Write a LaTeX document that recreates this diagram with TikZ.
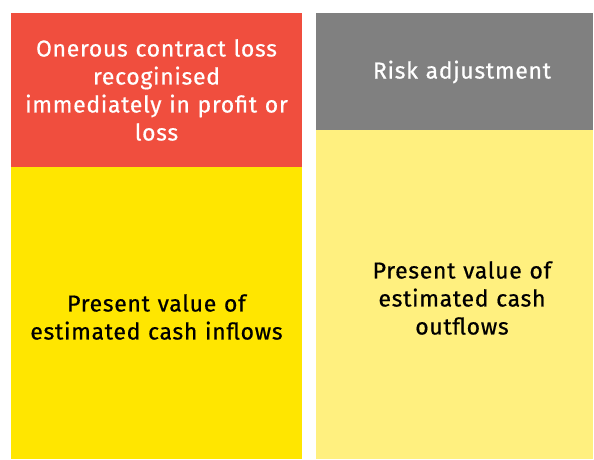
\documentclass[tikz,border=0pt]{standalone}
\usepackage{fontspec}
\setmainfont{Fira Sans}
\newfontfamily\lblfont{Fira Sans}[LetterSpace=3,FakeBold=0.6]
\definecolor{eyred}{HTML}{F04E3E}
\definecolor{eygray}{HTML}{808080}
\definecolor{eyyellow}{HTML}{FFE600}
\definecolor{eylight}{HTML}{FFF07F}
\begin{document}
\begin{tikzpicture}[x=1pt,y=1pt,
  lbl/.style={align=center,font=\lblfont\fontsize{23}{28}\selectfont,text width=280pt}]
\useasboundingbox (0,0) rectangle (594,459);
\fill[white] (0,0) rectangle (594,459);
\fill[eyred] (11,459-13) rectangle (302,459-167);
\fill[eyyellow] (11,459-167) rectangle (302,0);
\fill[eygray] (316,459-13) rectangle (593,459-130);
\fill[eylight] (316,459-130) rectangle (593,0);
\node[lbl,text=white] (onerous) at (156.5,459-90) {Onerous contract loss\\recoginised\\immediately in profit or\\loss};
\node[lbl] (inflows) at (156.5,459-317) {Present value of\\estimated cash inflows};
\node[lbl,text=white] (risk) at (462,459-72) {Risk adjustment};
\node[lbl] (outflows) at (462,459-298) {Present value of\\estimated cash\\outflows};
\end{tikzpicture}
\end{document}
